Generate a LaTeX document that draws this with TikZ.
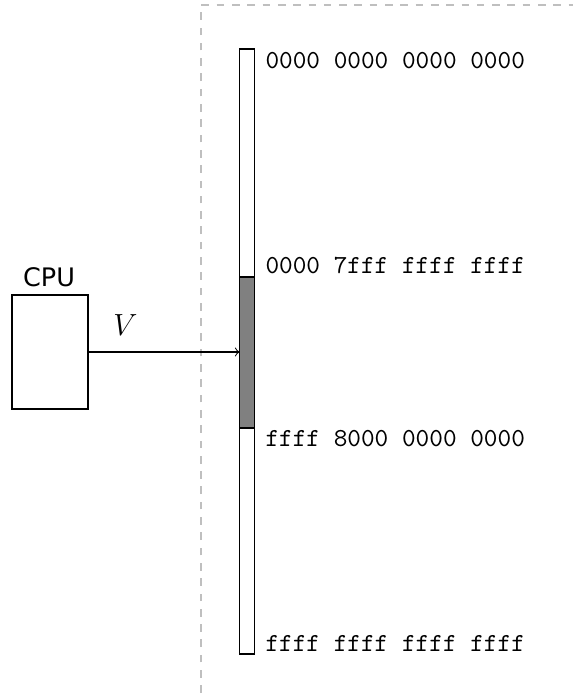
\documentclass[tikz,border=0pt]{standalone}
\usepackage{fontspec}
\newfontfamily\cpufont{DejaVu Sans}
\begin{document}
\begin{tikzpicture}[x=0.3922pt,y=-0.3922pt,
  guide/.style={draw=black!25, dashed, line width=0.4pt},
  addr/.style={font=\fontsize{10.2}{12}\ttfamily, inner sep=0pt},
  membar/.style={draw=black, line width=0.4pt},
  cpubox/.style={draw=black, line width=0.4pt}]
\useasboundingbox (0,0) rectangle (573,698);
% guide lines
\coordinate (gt) at (201,5);
\coordinate (gb) at (201,693);
\coordinate (gr) at (573,5);
\draw[guide] (gb) -- (gt) -- (gr);
% memory bar
\coordinate (mtl) at (239.5,49);
\coordinate (mbr) at (254.5,654);
\fill[black!50] (239.5,277) rectangle (254.5,428);
\draw[membar] (mtl) rectangle (mbr);
\draw[membar] (239.5,277) -- (254.5,277);
\draw[membar] (239.5,428) -- (254.5,428);
% labels
\node[addr, anchor=west] (a1) at (265,61) {0000 0000 0000 0000};
\node[addr, anchor=west] (a2) at (265,265) {0000 7fff ffff ffff};
\node[addr, anchor=west] (a3) at (265,439) {ffff 8000 0000 0000};
\node[addr, anchor=west] (a4) at (265,643) {ffff ffff ffff ffff};
% CPU
\node[cpubox, minimum width=76*0.3922pt, minimum height=114*0.3922pt, inner sep=0pt] (cpu) at (50,352) {};
\node[font=\cpufont, inner sep=0pt] (cpul) at (49,277) {CPU};
\coordinate (memw) at (239.5,352);
\draw[->, line width=0.4pt] (cpu.east) -- node[pos=0.245, above=3pt, font=\large] (vl) {$V$} (memw);
\end{tikzpicture}
\end{document}
